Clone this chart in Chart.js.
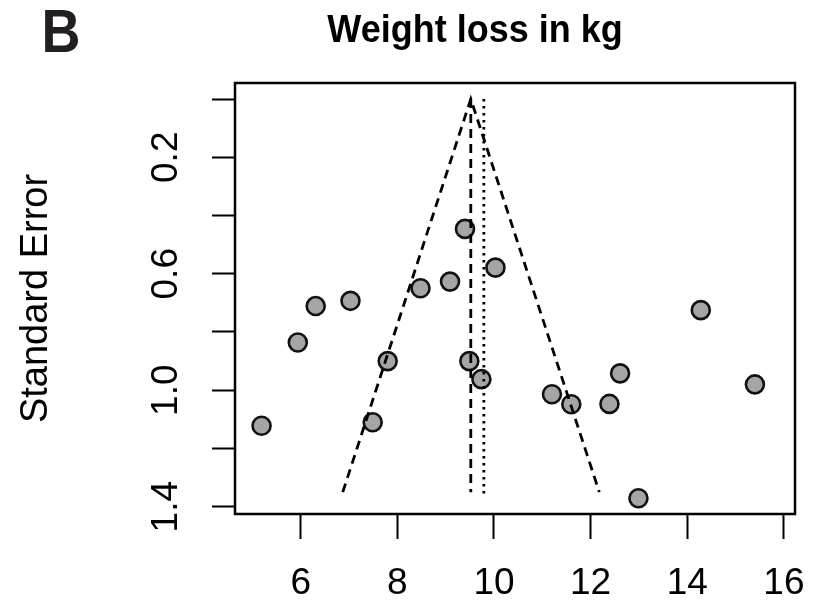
<!DOCTYPE html>
<html>
<head>
<meta charset="utf-8">
<script src="https://cdn.jsdelivr.net/npm/chart.js@4/dist/chart.umd.min.js"></script>
<style>
  html, body { margin: 0; padding: 0; background: #fff; }
  #wrap { width: 813px; height: 605px; }
</style>
</head>
<body>
<div id="wrap"><canvas id="funnel" width="813" height="605"></canvas></div>
<script>
// study effects (kg) and their standard errors
const effects = [5.19, 5.94, 6.31, 7.03, 7.49, 7.80, 8.48, 9.09, 9.40, 9.49, 9.74, 10.03, 11.20, 11.60, 12.39, 12.61, 12.99, 14.28, 15.40];
const stdErrors = [1.122, 0.836, 0.711, 0.693, 1.110, 0.900, 0.650, 0.627, 0.446, 0.900, 0.962, 0.579, 1.014, 1.048, 1.047, 0.942, 1.371, 0.725, 0.980];

// funnel outline and reference lines
const funnelX = [6.87, 9.52, 12.18];
const funnelSE = [1.35, 0, 1.35];
const estimateX = [9.52, 9.52];
const estimateSE = [0, 1.35];
const dottedX = [9.79, 9.79];
const dottedSE = [0, 1.365];

// axes
const xTicks = [6, 8, 10, 12, 14, 16];
const yTicks = [0, 0.2, 0.4, 0.6, 0.8, 1.0, 1.2, 1.4];
const yTickLabels = ['', '0.2', '', '0.6', '', '1.0', '', '1.4'];

const FONT = '"Liberation Sans", Arial, Helvetica, sans-serif';

const toPoints = (xs, ys) => xs.map((x, i) => ({ x: x, y: ys[i] }));

const extras = {
  id: 'extras',
  afterDraw(chart) {
    const { ctx, chartArea: a } = chart;
    ctx.save();
    // plot box
    ctx.strokeStyle = '#000';
    ctx.lineWidth = 2.5;
    ctx.strokeRect(a.left, a.top, a.right - a.left, a.bottom - a.top);
    ctx.textAlign = 'center';
    ctx.textBaseline = 'alphabetic';
    // panel letter (slightly tall, like the original)
    ctx.save();
    ctx.translate(61, 52);
    ctx.scale(1, 1.12);
    ctx.fillStyle = '#231f20';
    ctx.font = 'bold 54px ' + FONT;
    ctx.fillText('B', 0, 0);
    ctx.restore();
    // title
    ctx.save();
    ctx.translate(475, 42);
    ctx.scale(1, 1.08);
    ctx.fillStyle = '#000';
    ctx.font = 'bold 36px ' + FONT;
    ctx.fillText('Weight loss in kg', 0, 0);
    ctx.restore();
    ctx.restore();
  }
};

new Chart(document.getElementById('funnel'), {
  type: 'scatter',
  data: {
    datasets: [
      {
        type: 'line',
        data: toPoints(funnelX, funnelSE),
        borderColor: '#000',
        borderWidth: 2.8,
        borderDash: [9, 6],
        pointRadius: 0,
        fill: false,
        tension: 0
      },
      {
        type: 'line',
        data: toPoints(estimateX, estimateSE),
        borderColor: '#000',
        borderWidth: 2.8,
        borderDash: [9, 6],
        pointRadius: 0,
        fill: false
      },
      {
        type: 'line',
        data: toPoints(dottedX, dottedSE),
        borderColor: '#000',
        borderWidth: 2.8,
        borderDash: [2.5, 4.5],
        pointRadius: 0,
        fill: false
      },
      {
        data: toPoints(effects, stdErrors),
        pointRadius: 9,
        pointBackgroundColor: '#a5a5a5',
        pointBorderColor: '#111',
        pointBorderWidth: 2.6
      }
    ]
  },
  options: {
    responsive: false,
    animation: false,
    layout: { padding: { top: 83, right: 18, left: 0, bottom: 0 } },
    plugins: {
      legend: { display: false },
      title: { display: false },
      tooltip: { enabled: false }
    },
    scales: {
      x: {
        type: 'linear',
        min: 4.64,
        max: 16.23,
        afterBuildTicks: (s) => { s.ticks = xTicks.map(v => ({ value: v })); },
        afterFit: (s) => { s.height = 91; s.paddingLeft = 0; s.paddingRight = 0; },
        border: { display: false },
        grid: { drawOnChartArea: false, tickLength: 25, tickWidth: 2, tickColor: '#000' },
        ticks: {
          autoSkip: false,
          maxRotation: 0,
          padding: 23,
          color: '#000',
          font: { family: FONT, size: 37 }
        }
      },
      y: {
        type: 'linear',
        reverse: true,
        min: -0.055,
        max: 1.425,
        afterBuildTicks: (s) => { s.ticks = yTicks.map(v => ({ value: v })); },
        afterFit: (s) => { s.width = 235; s.paddingTop = 0; s.paddingBottom = 0; },
        border: { display: false },
        grid: { drawOnChartArea: false, tickLength: 23, tickWidth: 2, tickColor: '#000' },
        ticks: {
          autoSkip: false,
          minRotation: 90,
          maxRotation: 90,
          crossAlign: 'center',
          padding: 19,
          color: '#000',
          font: { family: FONT, size: 37 },
          callback: (v, i) => yTickLabels[i]
        },
        title: {
          display: true,
          text: 'Standard Error',
          color: '#000',
          font: { family: FONT, size: 38, lineHeight: 1.2 },
          padding: { top: 14, bottom: 0 }
        }
      }
    }
  },
  plugins: [extras]
});
</script>
</body>
</html>
